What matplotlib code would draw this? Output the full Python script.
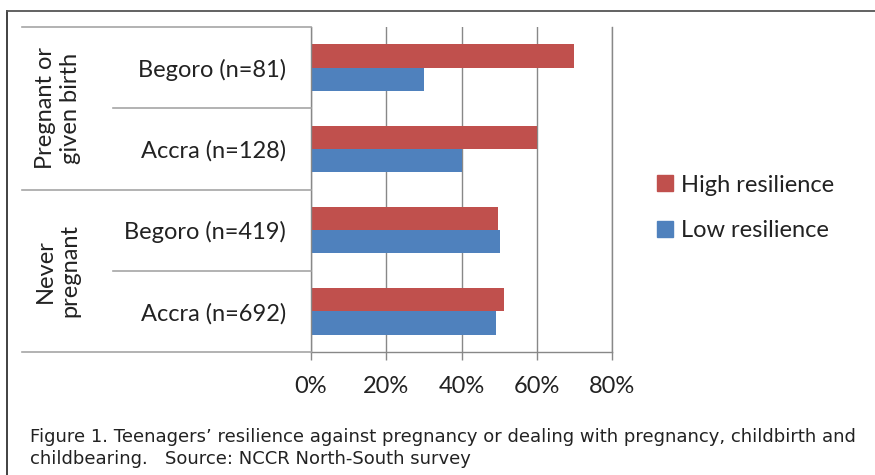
import numpy as np
import matplotlib.pyplot as plt
from matplotlib.lines import Line2D
from matplotlib.patches import Patch
import matplotlib.transforms as mtransforms

rows = ['Begoro (n=81)', 'Accra (n=128)', 'Begoro (n=419)', 'Accra (n=692)']
groups = ['Pregnant or\ngiven birth', 'Never\npregnant']
high = [70, 60, 49.7, 51.2]
low = [30.1, 40.2, 50.3, 49.1]
xticks = [0, 20, 40, 60, 80]

red = '#C0504D'
blue = '#4F81BD'
grey = '#888888'
W, H = 875, 475
fs = 17

plt.rcParams['font.family'] = ['Lato', 'DejaVu Sans']

fig = plt.figure(figsize=(W / 100, H / 100), dpi=100)
ax = fig.add_axes([311 / W, 1 - 352 / H, (612 - 311) / W, (352 - 27) / H])

y = np.arange(len(rows))[::-1]
bh = 0.285
ax.barh(y + bh / 2, high, height=bh, color=red, label='High resilience')
ax.barh(y - bh / 2, low, height=bh, color=blue, label='Low resilience')

ax.set_xlim(0, 80)
ax.set_ylim(-0.5, len(rows) - 0.5)
ax.set_xticks(xticks)
ax.set_xticklabels([f'{t}%' for t in xticks], fontsize=fs, color='#222222')
ax.set_yticks(y)
ax.set_yticklabels(rows, fontsize=fs, color='#222222')
ax.tick_params(axis='y', length=0, pad=18)
ax.tick_params(axis='x', length=5.5, width=1, color=grey, pad=12)
ax.grid(axis='x', color=grey, lw=1)
ax.set_axisbelow(True)
ax.spines['top'].set_visible(False)
for s in ['left', 'bottom', 'right']:
    ax.spines[s].set_color(grey)
    ax.spines[s].set_linewidth(1)

# separators in the label area
tr = mtransforms.blended_transform_factory(fig.transFigure, ax.transData)
for yy, x0 in [(3.5, 22), (1.5, 22), (-0.5, 22), (2.5, 113), (0.5, 113)]:
    fig.add_artist(Line2D([x0 / W, 311 / W], [yy, yy], transform=tr,
                          color='#A6A6A6', lw=1.2))

# group labels
for g, yc in zip(groups, [2.5, 0.5]):
    fig.text(58 / W, yc, g, transform=tr, rotation=90, ha='center', va='center',
             fontsize=fs, color='#222222', linespacing=1.2)

# outer frame
fig.add_artist(Line2D([7 / W, 7 / W], [0, 1 - 11 / H], color='#333333', lw=1.3))
fig.add_artist(Line2D([7 / W, 1], [1 - 11 / H, 1 - 11 / H], color='#555555', lw=1.3))

h = [Patch(color=red), Patch(color=blue)]
fig.legend(h, ['High resilience', 'Low resilience'], loc='center left',
           bbox_to_anchor=(636 / W, 1 - 208 / H), frameon=False, fontsize=fs,
           handlelength=0.65, handleheight=0.65, handletextpad=0.35,
           labelspacing=1.05, labelcolor='#222222')

cap = ('Figure 1. Teenagers\u2019 resilience against pregnancy or dealing with pregnancy, childbirth and\n'
       'childbearing.   Source: NCCR North-South survey')
fig.text(30 / W, 1 - 448 / H, cap, fontsize=13, color='#222222', va='center',
         family='DejaVu Sans', linespacing=1.3)

fig.savefig('out.png', dpi=100)
